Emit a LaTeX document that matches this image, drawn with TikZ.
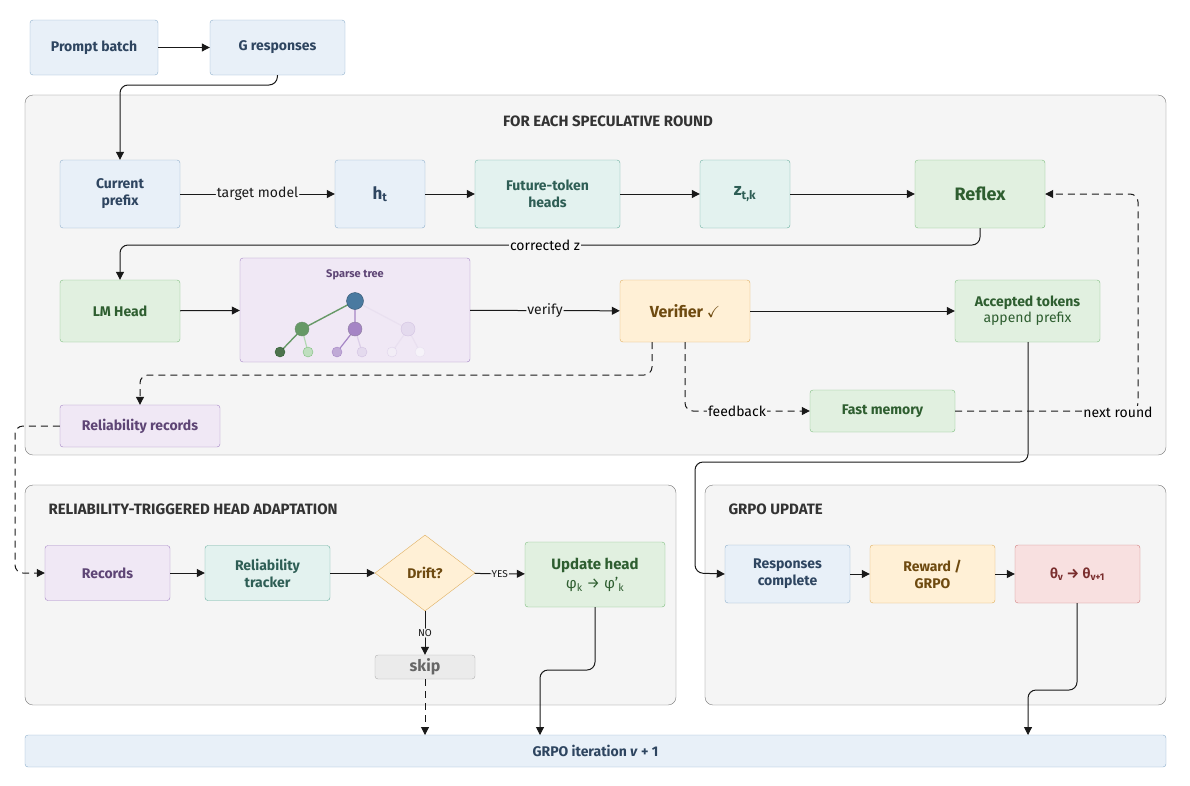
\documentclass[tikz,border=0pt]{standalone}
\usepackage{amssymb}
\usepackage{fontspec}
\setmainfont{Fira Sans}
\usetikzlibrary{shapes.geometric,arrows.meta}
\definecolor{bF}{HTML}{E8F0F8}\definecolor{bD}{HTML}{8FB0CC}\definecolor{bT}{HTML}{2E4560}
\definecolor{tF}{HTML}{E3F2EF}\definecolor{tD}{HTML}{6AB0A0}\definecolor{tT}{HTML}{2E5E55}
\definecolor{gF}{HTML}{E1F0E0}\definecolor{gD}{HTML}{80BF80}\definecolor{gT}{HTML}{2E5E30}
\definecolor{pF}{HTML}{F0E8F5}\definecolor{pD}{HTML}{A585C5}\definecolor{pT}{HTML}{5E4575}
\definecolor{oF}{HTML}{FFF0D6}\definecolor{oD}{HTML}{E0B060}\definecolor{oT}{HTML}{6E4A10}
\definecolor{rF}{HTML}{F8E0E0}\definecolor{rD}{HTML}{D08080}\definecolor{rT}{HTML}{7A2E2E}
\definecolor{root}{HTML}{4A7AA0}
\tikzset{
 box/.style={draw,rounded corners=3pt,align=center,font=\bfseries\fontsize{14}{17}\selectfont,inner sep=0pt},
 bl/.style={box,fill=bF,draw=bD,text=bT}, tl/.style={box,fill=tF,draw=tD,text=tT},
 gr/.style={box,fill=gF,draw=gD,text=gT}, pu/.style={box,fill=pF,draw=pD,text=pT},
 or/.style={box,fill=oF,draw=oD,text=oT}, re/.style={box,fill=rF,draw=rD,text=rT},
 region/.style={draw=black!55,fill=black!4,rounded corners=8pt},
 ttl/.style={font=\bfseries\fontsize{15}{17}\selectfont,text=black!80},
 ar/.style={-{Triangle[length=8pt,width=8pt]},line width=1pt,black!90,rounded corners=8pt},
 da/.style={ar,dash pattern=on 7pt off 5pt},
 lab/.style={fill=black!4,font=\fontsize{14}{16}\selectfont,inner sep=1pt},
 tn/.style={circle,draw,inner sep=0pt}
}
\begin{document}
\begin{tikzpicture}[x=1pt,y=-1pt]
\useasboundingbox (0,0) rectangle (1190,785);
\draw[region] (25,95) rectangle (1166,455);
\draw[region] (25,485) rectangle (676,705);
\draw[region] (705,485) rectangle (1166,705);
\node[ttl] at (608,121) {FOR EACH SPECULATIVE ROUND};
\node[ttl,anchor=west] at (45,509) {RELIABILITY-TRIGGERED HEAD ADAPTATION};
\node[ttl,anchor=west] at (725,509) {GRPO UPDATE};

\node[bl,minimum width=128pt,minimum height=55pt] (pb) at (94,47.5) {Prompt batch};
\node[bl,minimum width=135pt,minimum height=55pt] (gr) at (277.5,47.5) {G responses};
\node[bl,minimum width=120pt,minimum height=68pt] (cp) at (120,194) {Current\\prefix};
\node[bl,minimum width=90pt,minimum height=68pt,font=\bfseries\fontsize{17}{19}\selectfont] (ht) at (380,194) {h\textsubscript{t}};
\node[tl,minimum width=145pt,minimum height=68pt] (ft) at (547.5,194) {Future-token\\heads};
\node[tl,minimum width=90pt,minimum height=68pt,font=\bfseries\fontsize{17}{19}\selectfont] (z) at (745,194) {z\textsubscript{t,k}};
\node[gr,minimum width=130pt,minimum height=68pt,font=\bfseries\fontsize{18}{20}\selectfont] (rf) at (980,194) {Reflex};
\node[gr,minimum width=120pt,minimum height=62pt] (lm) at (120,311) {LM Head};
\node[pu,minimum width=230pt,minimum height=104pt] (st) at (355,310) {};
\node[font=\bfseries\fontsize{11}{13}\selectfont,text=pT] at (355,275) {Sparse tree};
\node[or,minimum width=130pt,minimum height=62pt,font=\bfseries\fontsize{16}{18}\selectfont] (vf) at (685,311) {Verifier $\checkmark$};
\node[gr,minimum width=145pt,minimum height=62pt] (ac) at (1027.5,311) {Accepted tokens\\[-1pt]{\mdseries append prefix}};
\node[pu,minimum width=160pt,minimum height=42pt] (rr) at (140,426) {Reliability records};
\node[gr,minimum width=145pt,minimum height=42pt] (fm) at (882.5,411) {Fast memory};
\node[pu,minimum width=125pt,minimum height=55pt] (rc) at (107.5,573) {Records};
\node[tl,minimum width=125pt,minimum height=55pt] (tr) at (267.5,573) {Reliability\\tracker};
\node[diamond,draw=oD,fill=oF,text=oT,font=\bfseries\fontsize{14}{17}\selectfont,minimum width=100pt,minimum height=76pt,inner sep=0pt] (dr) at (425,573) {Drift?};
\node[gr,minimum width=140pt,minimum height=65pt,font=\bfseries\fontsize{15}{19}\selectfont] (uh) at (595,574.5) {Update head\\{\mdseries φ\textsubscript{k} → φ'\textsubscript{k}}};
\node[box,fill=black!8,draw=black!30,text=black!60,minimum width=100pt,minimum height=24pt,font=\bfseries\fontsize{16}{18}\selectfont] (sk) at (425,667) {skip};
\node[bl,minimum width=125pt,minimum height=58pt] (rs) at (787.5,574) {Responses\\complete};
\node[or,minimum width=125pt,minimum height=58pt] (rw) at (932.5,574) {Reward /\\GRPO};
\node[re,minimum width=125pt,minimum height=58pt] (th) at (1077.5,574) {θ\textsubscript{v} → θ\textsubscript{v+1}};
\node[bl,minimum width=1141pt,minimum height=32pt] (bar) at (595.5,751) {GRPO iteration \textit{v} + 1};

% tree
\draw[gD!80!black,line width=1.4pt] (355,301)--(302,329)--(280,352);
\draw[gD!60,line width=1.2pt] (302,329)--(308,352);
\draw[pD,line width=1.2pt] (355,301)--(355,329)--(337,352);
\draw[pD!40,line width=1.2pt] (355,329)--(362,352);
\draw[pD!25,line width=1.2pt] (355,301)--(408,329)--(392,352) (408,329)--(420,352);
\node[tn,fill=root,draw=root!70!black,minimum size=17pt] at (355,301) {};
\node[tn,fill=gD!80!black,draw=gT!70,minimum size=14pt] at (302,329) {};
\node[tn,fill=pD,draw=pT!70,minimum size=14pt] at (355,329) {};
\node[tn,fill=pD!30,draw=pD!50,minimum size=14pt] at (408,329) {};
\node[tn,fill=gD!60!black,draw=gT,minimum size=10pt] at (280,352) {};
\node[tn,fill=gD!50,draw=gD,minimum size=10pt] at (308,352) {};
\node[tn,fill=pD!70,draw=pD,minimum size=10pt] at (337,352) {};
\node[tn,fill=pD!30,draw=pD!50,minimum size=10pt] at (362,352) {};
\node[tn,fill=pD!15,draw=pD!35,minimum size=10pt] at (392,352) {};
\node[tn,fill=pD!10,draw=pD!25,minimum size=10pt] at (420,352) {};

% connectors
\draw[ar] (pb)--(gr);
\draw[ar] (gr.south)--(277,85)--(120,85)--(cp.north);
\draw[ar] (cp)--node[lab]{target model}(ht);
\draw[ar] (ht)--(ft); \draw[ar] (ft)--(z); \draw[ar] (z)--(rf);
\draw[ar] (rf.south)--(980,245)--(120,245)--(lm.north);
\node[lab] at (545,245) {corrected z};
\draw[ar] (lm)--(st); \draw[ar] (st)--node[lab]{verify}(vf); \draw[ar] (vf)--(ac);
\draw[da] (652,342)--(652,375)--(140,375)--(rr.north);
\draw[da] (685,342)--(685,411)--(fm.west);
\node[lab] at (737,411) {feedback};
\draw[da] (fm.east)--(1138,411)--(1138,194)--(rf.east);
\node[lab] at (1118,412) {next round};
\draw[da] (rr.west)--(15,426)--(15,573)--(rc.west);
\draw[ar] (1028,342)--(1028,462)--(695,462)--(695,573)--(rs.west);
\draw[ar] (rs)--(rw); \draw[ar] (rw)--(th);
\draw[ar] (rc)--(tr); \draw[ar] (tr)--(dr);
\draw[ar] (dr)--node[lab,font=\fontsize{10}{11}\selectfont]{YES}(uh);
\draw[ar] (dr)--node[lab,font=\fontsize{10}{11}\selectfont]{NO}(sk);
\draw[da] (sk)--(425,735);
\draw[ar] (595,607)--(595,670)--(540,670)--(540,735);
\draw[ar] (1077,603)--(1077,690)--(1028,690)--(1028,735);
\end{tikzpicture}
\end{document}
